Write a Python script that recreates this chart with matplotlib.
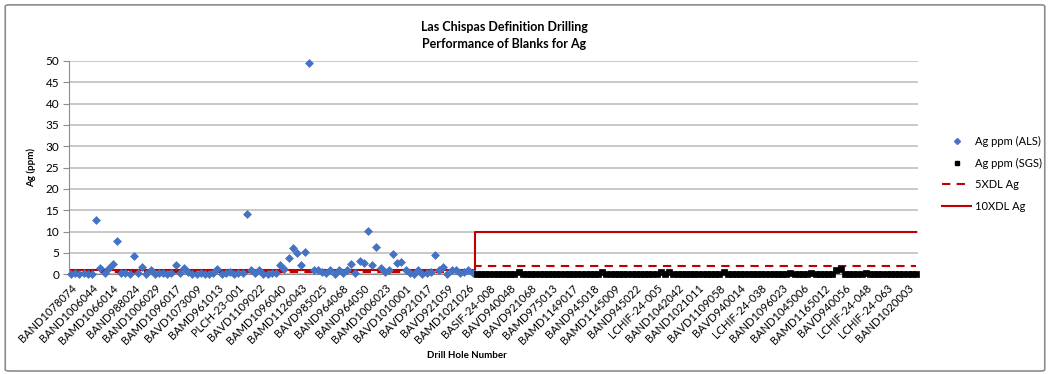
import numpy as np
import matplotlib
matplotlib.use("Agg")
import matplotlib.pyplot as plt
from matplotlib.lines import Line2D
from matplotlib.patches import FancyBboxPatch

plt.rcParams["font.family"] = ["Lato", "DejaVu Sans"]

# ---------------------------------------------------------------------------
# Data
# ---------------------------------------------------------------------------
hole_labels = [
    "BAND1078074", "BAND1006044", "BAMD1066014", "BAND988024", "BAND1006029",
    "BAMD1096017", "BAVD1073009", "BAMD961013", "PLCH-23-001", "BAVD1109022",
    "BAMD1096040", "BAMD1126043", "BAVD985025", "BAND964068", "BAND964050",
    "BAMD1006023", "BAVD1010001", "BAVD921017", "BAVD921059", "BAMD1021026",
    "BASIF-24-008", "BAVD940048", "BAVD921068", "BAMD975013", "BAMD1149017",
    "BAND945018", "BAMD1145009", "BAND945022", "LCHIF-24-005", "BAND1042042",
    "BAND1021011", "BAVD1109058", "BAVD940014", "LCHIF-24-038", "BAND1096023",
    "BAND1045006", "BAMD1165012", "BAVD940056", "LCHIF-24-048", "LCHIF-24-063",
    "BAND1020003",
]
LABEL_STEP = 5  # one hole label shown every 5 samples

# Ag ppm, ALS lab blanks
als_ag = [
    0.1, 0.2, 0.1, 0.2, 0.1, 0.1, 12.6, 1.4, 0.2, 1.4,
    2.4, 7.8, 0.2, 0.3, 0.1, 4.3, 0.2, 1.7, 0.1, 1.0,
    0.1, 0.2, 0.2, 0.1, 0.3, 2.1, 0.2, 1.4, 0.6, 0.1,
    0.1, 0.2, 0.1, 0.1, 0.3, 1.2, 0.1, 0.2, 0.4, 0.1,
    0.2, 0.3, 14.2, 1.0, 0.2, 0.9, 0.1, 0.1, 0.2, 0.3,
    2.2, 1.2, 3.8, 6.1, 4.9, 2.1, 5.2, 49.5, 1.0, 1.0,
    0.6, 0.2, 0.9, 0.1, 1.0, 0.3, 0.9, 2.4, 0.2, 3.1,
    2.7, 10.1, 2.1, 6.3, 1.4, 0.4, 0.9, 4.7, 2.6, 2.8,
    1.0, 0.2, 0.1, 0.9, 0.1, 0.2, 0.5, 4.5, 1.0, 1.7,
    0.1, 0.9, 1.0, 0.2, 0.6, 1.0, 0.3,
]

# Ag ppm, SGS lab blanks
sgs_ag = [
    0.0, 0.0, 0.0, 0.0, 0.0, 0.0, 0.0, 0.0, 0.0, 0.0,
    0.4, 0.0, 0.0, 0.0, 0.0, 0.0, 0.0, 0.0, 0.0, 0.0,
    0.0, 0.0, 0.0, 0.0, 0.0, 0.0, 0.0, 0.0, 0.0, 0.0,
    0.4, 0.0, 0.0, 0.0, 0.0, 0.0, 0.0, 0.0, 0.0, 0.0,
    0.0, 0.0, 0.0, 0.0, 0.4, 0.0, 0.4, 0.0, 0.0, 0.0,
    0.0, 0.0, 0.0, 0.0, 0.0, 0.0, 0.0, 0.0, 0.0, 0.5,
    0.0, 0.0, 0.0, 0.0, 0.0, 0.0, 0.0, 0.0, 0.0, 0.0,
    0.0, 0.0, 0.0, 0.0, 0.0, 0.3, 0.0, 0.0, 0.0, 0.0,
    0.3, 0.0, 0.0, 0.0, 0.0, 0.0, 1.0, 1.3, 0.0, 0.0,
    0.0, 0.0, 0.0, 0.3, 0.0, 0.0, 0.0, 0.0, 0.0, 0.0,
    0.0, 0.0, 0.0, 0.0, 0.0, 0.0,
]

# detection limit multiples per lab (ppm)
als_5xdl, als_10xdl = 0.5, 1.0
sgs_5xdl, sgs_10xdl = 2.0, 10.0

# ---------------------------------------------------------------------------
# Build series on a shared category axis
# ---------------------------------------------------------------------------
n_als = len(als_ag)
n_sgs = len(sgs_ag)
x_als = np.arange(n_als)
x_sgs = np.arange(n_als, n_als + n_sgs)
x_all = np.arange(n_als + n_sgs)
line_5xdl = [als_5xdl] * n_als + [sgs_5xdl] * n_sgs
line_10xdl = [als_10xdl] * n_als + [sgs_10xdl] * n_sgs

RED = "#C00000"
BLUE = "#4472C4"

fig = plt.figure(figsize=(10.5, 3.74), dpi=100)
fig.patches.append(FancyBboxPatch((0.005, 0.008), 0.99, 0.979,
                                  boxstyle="round,pad=0,rounding_size=0.004",
                                  transform=fig.transFigure, fill=False,
                                  edgecolor="#8C8C8C", linewidth=1.2))

ax = fig.add_axes([0.0657, 0.267, 0.8086, 0.570])

ax.plot(x_all, line_5xdl, color=RED, linewidth=1.5, linestyle=(0, (4, 3)),
        drawstyle="steps-mid", zorder=2)
ax.plot(x_all, line_10xdl, color=RED, linewidth=1.5, drawstyle="steps-mid",
        zorder=2)
ax.scatter(x_als, als_ag, marker="D", s=16, color=BLUE, linewidths=0.5,
           edgecolors=BLUE, zorder=3, clip_on=False)
ax.scatter(x_sgs, sgs_ag, marker="s", s=18, color="black", linewidths=0.5,
           edgecolors="black", zorder=3, clip_on=False)

ax.set_xlim(-0.5, n_als + n_sgs - 0.5)
ax.set_ylim(0, 50)
ax.set_yticks(np.arange(0, 51, 5))
ax.yaxis.grid(True, color="#BFBFBF", linewidth=1.2)
ax.set_axisbelow(True)
for side in ["top", "right"]:
    ax.spines[side].set_visible(False)
ax.spines["left"].set_color("#8C8C8C")
ax.spines["bottom"].set_color("#8C8C8C")
ax.tick_params(axis="y", length=4, color="#8C8C8C", labelsize=8.5, pad=3)

ax.set_xticks(np.arange(len(hole_labels)) * LABEL_STEP)
ax.set_xticklabels(hole_labels, rotation=45, ha="right", rotation_mode="anchor",
                   fontsize=8)
ax.tick_params(axis="x", length=0, pad=6)

ax.set_ylabel("Ag (ppm)", fontsize=7, fontweight="bold", labelpad=7)
fig.text(467 / 1050, 1 - 356 / 374, "Drill Hole Number", fontsize=7,
         fontweight="bold", ha="center", va="center")

fig.text(504 / 1050, 1 - 27 / 374, "Las Chispas Definition Drilling",
         fontsize=9, fontweight="bold", ha="center", va="center")
fig.text(504 / 1050, 1 - 44 / 374, "Performance of Blanks for Ag",
         fontsize=9, fontweight="bold", ha="center", va="center")

handles = [
    Line2D([], [], marker="D", color=BLUE, linestyle="none", markersize=3),
    Line2D([], [], marker="s", color="black", linestyle="none", markersize=3),
    Line2D([], [], color=RED, linewidth=1.5, linestyle=(0, (4, 3))),
    Line2D([], [], color=RED, linewidth=1.5),
]
fig.legend(handles, ["Ag ppm (ALS)", "Ag ppm (SGS)", "5XDL Ag", "10XDL Ag"],
           loc="upper left", bbox_to_anchor=(0.888, 1 - 126 / 374),
           frameon=False, fontsize=8, handlelength=2.6, labelspacing=0.95,
           handletextpad=0.3)

fig.savefig("out.png", dpi=100)
